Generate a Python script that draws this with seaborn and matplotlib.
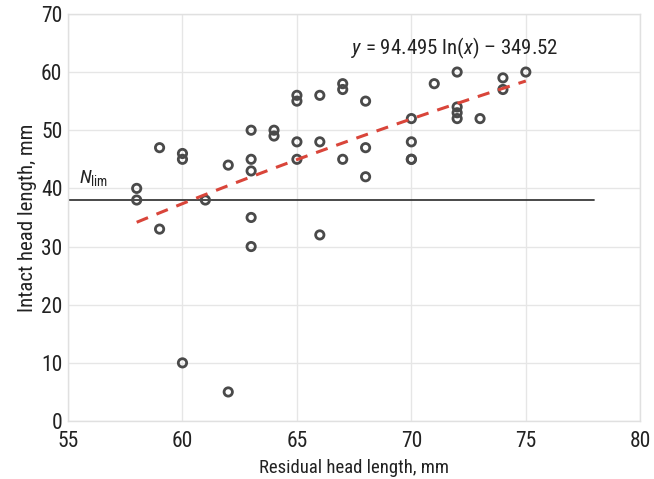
import numpy as np
import pandas as pd
import matplotlib
matplotlib.use("Agg")
import matplotlib.pyplot as plt
import seaborn as sns

# Data
residual = [58, 58, 59, 59, 60, 60, 60, 61, 62, 62,
            63, 63, 63, 63, 63, 64, 64, 65, 65, 65, 65,
            66, 66, 66, 67, 67, 67, 68, 68, 68,
            70, 70, 70, 70, 71, 72, 72, 72, 72, 73, 74, 74, 75]
intact = [40, 38, 47, 33, 46, 45, 10, 38, 44, 5,
          50, 45, 43, 35, 30, 50, 49, 56, 55, 48, 45,
          56, 48, 32, 58, 57, 45, 55, 47, 42,
          52, 48, 45, 45, 58, 60, 54, 53, 52, 52, 59, 57, 60]
fit_a, fit_b = 94.495, -349.52
fit_range = [58, 75]
n_lim = 38
n_lim_range = [55, 78]
xticks = [55, 60, 65, 70, 75, 80]
yticks = [0, 10, 20, 30, 40, 50, 60, 70]

sns.set_theme(style="whitegrid")
plt.rcParams['font.family'] = ['Roboto Condensed', 'Roboto', 'DejaVu Sans']
plt.rcParams['mathtext.fontset'] = 'custom'
plt.rcParams['mathtext.it'] = 'Roboto Condensed:italic'
plt.rcParams['mathtext.rm'] = 'Roboto Condensed'

fig = plt.figure(figsize=(6.54, 4.79), dpi=100)
ax = fig.add_axes([0.104, 0.121, 0.875, 0.850])

df = pd.DataFrame({"x": residual, "y": intact})
sns.scatterplot(data=df, x="x", y="y", ax=ax, marker="o", s=36,
                facecolor="none", edgecolor="#4a4a4a", linewidth=2.0, zorder=3)

xf = np.linspace(fit_range[0], fit_range[1], 100)
yf = fit_a * np.log(xf) + fit_b
sns.lineplot(x=xf, y=yf, ax=ax, color="#d9453a", linestyle=(0, (4, 3)),
             linewidth=2.2, zorder=4)

ax.plot(n_lim_range, [n_lim, n_lim], color="#3a3a3a", linewidth=1.3, zorder=2)

ax.text(55.5, 41.0, r"$N_{\mathrm{lim}}$", fontsize=14, color="#222222")
ax.text(67.35, 63.0, r"$y$ = 94.495 ln($x$) – 349.52", fontsize=15, color="#222222")

ax.set_xlim(55, 80)
ax.set_ylim(0, 70)
ax.set_xticks(xticks)
ax.set_yticks(yticks)
ax.tick_params(axis='both', labelsize=15.5, colors="#222222", length=0)
ax.tick_params(axis='x', pad=7)
ax.tick_params(axis='y', pad=4)
ax.set_xlabel("Residual head length, mm", fontsize=13.5, color="#222222", labelpad=5)
ax.set_ylabel("Intact head length, mm", fontsize=15, color="#222222", labelpad=3)
ax.grid(True, color="#e6e6e6", linewidth=1.0)
for s in ax.spines.values():
    s.set_color("#e0e0e0")
    s.set_linewidth(1.0)

fig.savefig("out.png", dpi=100)
